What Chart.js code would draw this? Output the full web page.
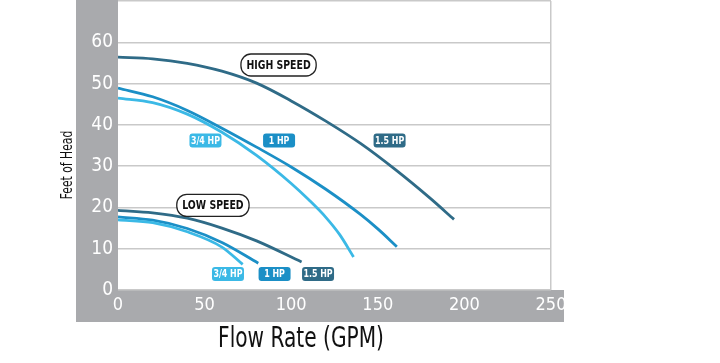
<!DOCTYPE html>
<html><head><meta charset="utf-8">
<script src="https://cdn.jsdelivr.net/npm/chart.js@4/dist/chart.umd.min.js"></script>
<style>html,body{margin:0;padding:0;background:#fff;overflow:hidden}#wrap{width:720px;height:363px;position:relative}</style>
</head><body><div id="wrap"><canvas id="c"></canvas></div>
<script>
// ---- data (Flow GPM, Feet of Head) ----
const hs34Q = [0, 20, 40, 60, 80, 100, 110, 120, 128, 136];
const hs34H = [46.5, 45.4, 42.6, 38.2, 32.6, 25.8, 21.9, 17.6, 13.4, 8.0];
const hs1Q = [0, 20, 40, 60, 80, 100, 120, 140, 150, 161];
const hs1H = [48.9, 46.8, 43.5, 39.2, 34.6, 29.8, 24.4, 18.3, 14.8, 10.5];
const hs15Q = [0, 20, 40, 60, 80, 100, 120, 140, 160, 180, 194];
const hs15H = [56.4, 56.0, 54.9, 53.0, 50.1, 45.8, 40.9, 35.5, 29.2, 22.3, 17.1];
const ls34Q = [0, 20, 40, 60, 72];
const ls34H = [17.0, 16.3, 14.1, 10.4, 6.2];
const ls1Q = [0, 20, 40, 60, 81];
const ls1H = [17.7, 16.9, 14.9, 11.5, 6.5];
const ls15Q = [0, 20, 40, 60, 80, 106];
const ls15H = [19.3, 18.7, 17.4, 15.0, 11.9, 6.8];

const xTicks = [0, 50, 100, 150, 200, 250];
const yTicks = [0, 10, 20, 30, 40, 50, 60];
const hpNames = ['3/4 HP', '1 HP', '1.5 HP'];
const speedNames = ['HIGH SPEED', 'LOW SPEED'];
// annotation anchors (data units)
const speedAtQ = [92.7, 54.8];
const speedAtH = [54.5, 20.5];
const hpHighAtQ = [50.5, 93, 156.8];
const hpHighAtH = 36.2;
const hpLowAtQ = [63.5, 90.4, 115.5];
const hpLowAtH = 3.9;

const xTitle = 'Flow Rate (GPM)';
const yTitle = 'Feet of Head';

const COLORS = ['#3bb9e6', '#1b8fc6', '#2f6b87'];
const FONT = "'DejaVu Sans Condensed','Liberation Sans Narrow',sans-serif";
const SQUEEZE = 0.8;

function pts(q, h) { return q.map((v, i) => ({x: v, y: h[i]})); }
function ds(q, h, c) {
  return {data: pts(q, h), borderColor: COLORS[c], borderWidth: 2.8, pointRadius: 0, showLine: true,
          cubicInterpolationMode: 'monotone', fill: false, borderCapStyle: 'butt'};
}

function roundRect(ctx, x, y, w, h, r) {
  ctx.beginPath();
  ctx.moveTo(x + r, y);
  ctx.lineTo(x + w - r, y); ctx.arcTo(x + w, y, x + w, y + r, r);
  ctx.lineTo(x + w, y + h - r); ctx.arcTo(x + w, y + h, x + w - r, y + h, r);
  ctx.lineTo(x + r, y + h); ctx.arcTo(x, y + h, x, y + h - r, r);
  ctx.lineTo(x, y + r); ctx.arcTo(x, y, x + r, y, r);
  ctx.closePath();
}
function squeezedText(ctx, t, cx, cy) {
  ctx.save();
  ctx.translate(cx, cy); ctx.scale(SQUEEZE, 1);
  ctx.fillText(t, 0, 0);
  ctx.restore();
}

const bgPlugin = {
  id: 'bg',
  beforeDraw(chart) {
    const ctx = chart.ctx, a = chart.chartArea;
    ctx.save();
    ctx.fillStyle = '#a9aaad';
    ctx.fillRect(76, 0, a.left - 76, 322);
    ctx.fillRect(76, a.bottom, 564 - 76, 322 - a.bottom);
    ctx.restore();
  },
  afterDatasetsDraw(chart) {
    const ctx = chart.ctx, xs = chart.scales.x, ys = chart.scales.y;
    ctx.save();
    ctx.textAlign = 'center'; ctx.textBaseline = 'middle';
    // speed boxes
    ctx.font = 'bold 13px ' + FONT;
    speedNames.forEach((t, i) => {
      const cx = xs.getPixelForValue(speedAtQ[i]), cy = ys.getPixelForValue(speedAtH[i]);
      const w = ctx.measureText(t).width * SQUEEZE + 11, h = 22;
      roundRect(ctx, cx - w / 2, cy - h / 2, w, h, 10);
      ctx.fillStyle = '#fff'; ctx.fill();
      ctx.lineWidth = 1.3; ctx.strokeStyle = '#222'; ctx.stroke();
      ctx.fillStyle = '#111'; squeezedText(ctx, t, cx, cy + 0.5);
    });
    // hp labels
    ctx.font = 'bold 11px ' + FONT;
    [[hpHighAtQ, hpHighAtH], [hpLowAtQ, hpLowAtH]].forEach(([qs, hh]) => {
      hpNames.forEach((t, i) => {
        const cx = xs.getPixelForValue(qs[i]), cy = ys.getPixelForValue(hh);
        const w = 32, h = 14;
        roundRect(ctx, cx - w / 2, cy - h / 2, w, h, 3);
        ctx.fillStyle = COLORS[i]; ctx.fill();
        ctx.fillStyle = '#fff'; squeezedText(ctx, t, cx, cy + 0.5);
      });
    });
    ctx.restore();
  },
  afterDraw(chart) {
    const ctx = chart.ctx;
    ctx.save();
    ctx.fillStyle = '#111';
    ctx.textAlign = 'center'; ctx.textBaseline = 'middle';
    ctx.font = '28px ' + FONT;
    squeezedText(ctx, xTitle, 301, 340);
    ctx.translate(68, 165); ctx.rotate(-Math.PI / 2);
    ctx.font = '15px ' + FONT;
    squeezedText(ctx, yTitle, 0, 0);
    ctx.restore();
  }
};

new Chart(document.getElementById('c'), {
  type: 'scatter',
  data: {
    datasets: [
      ds(hs34Q, hs34H, 0), ds(hs1Q, hs1H, 1), ds(hs15Q, hs15H, 2),
      ds(ls34Q, ls34H, 0), ds(ls1Q, ls1H, 1), ds(ls15Q, ls15H, 2)
    ]
  },
  options: {
    responsive: true, maintainAspectRatio: false, animation: false,
    devicePixelRatio: 1,
    layout: {padding: {left: 0, right: 169, top: 1, bottom: 0}},
    plugins: {legend: {display: false}, tooltip: {enabled: false}},
    scales: {
      x: {
        type: 'linear', min: 0, max: 250,
        afterBuildTicks: s => { s.ticks = xTicks.map(v => ({value: v})); },
        afterFit: s => { s.height = 73; s.paddingLeft = 0; s.paddingRight = 0; },
        ticks: {color: '#fff', font: {family: FONT, size: 18}, padding: 5, maxRotation: 0},
        grid: {drawTicks: false, lineWidth: 1.5,
               color: c => (c.tick && c.tick.value === 250) ? '#c9c9c9' : 'rgba(0,0,0,0)'},
        border: {display: false}
      },
      y: {
        type: 'linear', min: 0, max: 70,
        afterBuildTicks: s => { s.ticks = yTicks.concat([70]).map(v => ({value: v})); },
        afterFit: s => { s.width = 118; s.paddingTop = 0; s.paddingBottom = 0; },
        ticks: {color: '#fff', font: {family: FONT, size: 19}, padding: 5,
                callback: v => (v === 70 ? '' : String(v))},
        grid: {drawTicks: false, lineWidth: 1.5, color: '#c9c9c9'},
        border: {display: false}
      }
    }
  },
  plugins: [bgPlugin]
});
</script>
</body></html>
